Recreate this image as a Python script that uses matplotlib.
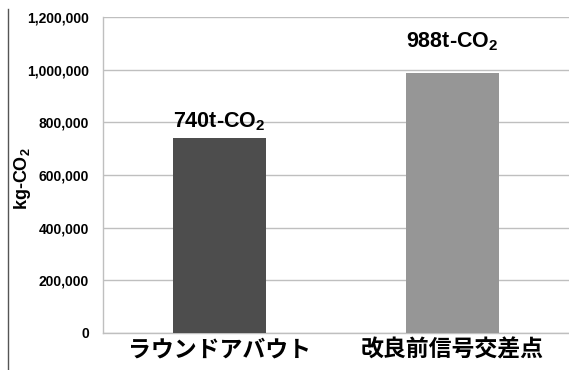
import matplotlib
matplotlib.use("Agg")
import matplotlib.pyplot as plt
from matplotlib.lines import Line2D

# Chart data
categories = ["ラウンドアバウト", "改良前信号交差点"]
emissions = [740000, 988000]
bar_labels = ["740t-CO$_2$", "988t-CO$_2$"]
bar_colors = ["#4d4d4d", "#969696"]
label_offsets = [3.5, 14]
y_ticks = [0, 200000, 400000, 600000, 800000, 1000000, 1200000]

plt.rcParams["font.family"] = ["Liberation Sans", "DejaVu Sans"]
plt.rcParams["mathtext.default"] = "regular"

fig = plt.figure(figsize=(5.69, 3.70), dpi=100)
ax = fig.add_axes([0.181, 0.1, 0.819, 0.854])

x = range(len(categories))
bars = ax.bar(x, emissions, width=0.395, color=bar_colors, zorder=3)

# Value labels above the bars
for bar, label, off in zip(bars, bar_labels, label_offsets):
    ax.annotate(
        label,
        (bar.get_x() + bar.get_width() / 2, bar.get_height()),
        xytext=(0, off),
        textcoords="offset points",
        ha="center",
        va="bottom",
        fontsize=15.5,
        fontweight="bold",
        zorder=4
    )

ax.set_xlim(-0.5, 1.5)
ax.set_ylim(0, 1200000)
ax.set_yticks(y_ticks, labels=[f"{v:,}" for v in y_ticks],
              fontweight="bold", fontsize=10)

ax.set_xticks(list(x), labels=categories, family="Noto Sans CJK JP",
              fontsize=16.5, fontweight="bold")
ax.tick_params(axis="both", length=0)
ax.tick_params(axis="y", pad=10)
ax.tick_params(axis="x", pad=4)

ax.set_ylabel("kg-CO$_2$", fontsize=13, fontweight="bold")
ax.yaxis.set_label_coords(-0.15, 0.49)

ax.grid(axis="y", color="#bfbfbf", linewidth=1, zorder=0)
for side in ["top", "right"]:
    ax.spines[side].set_visible(False)
for side in ["left", "bottom"]:
    ax.spines[side].set_color("#bfbfbf")
    ax.spines[side].set_linewidth(1)

# Outer left border line
fig.add_artist(Line2D([0.014, 0.014], [0.0, 0.975], color="#555555",
                      linewidth=1, transform=fig.transFigure))

fig.savefig("out.png", dpi=100)
